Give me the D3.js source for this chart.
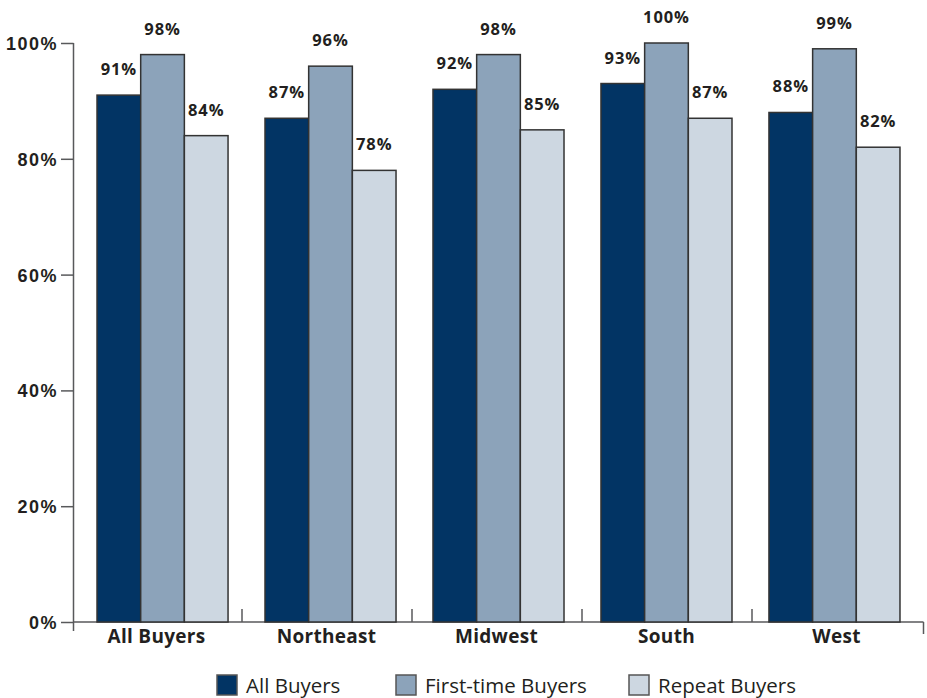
<!DOCTYPE html>
<html>
<head>
<meta charset="utf-8">
<script src="https://cdn.jsdelivr.net/npm/d3@7/dist/d3.min.js"></script>
<style>
  html, body { margin: 0; padding: 0; background: #fff; }
  svg { display: block; font-family: "Open Sans", "Noto Sans", sans-serif; }
</style>
</head>
<body>
<svg id="chart" width="927" height="698"></svg>
<script>
// Regions and buyer groups
const regions = ["All Buyers", "Northeast", "Midwest", "South", "West"];
const seriesNames = ["All Buyers", "First-time Buyers", "Repeat Buyers"];
const allBuyers = [91, 87, 92, 93, 88];
const firstTimeBuyers = [98, 96, 98, 100, 99];
const repeatBuyers = [84, 78, 85, 87, 82];
const yTicks = [0, 20, 40, 60, 80, 100];
const colors = ["#023464", "#8ca3ba", "#cdd7e1"];

const seriesValues = [allBuyers, firstTimeBuyers, repeatBuyers];
const rows = regions.map((r, i) => ({
  region: r,
  values: seriesNames.map((s, j) => ({ series: s, value: seriesValues[j][i] }))
}));

const svg = d3.select("#chart");
const textColor = "#231f20";
const axisColor = "#58595b";

const plotLeft = 73.5, plotRight = 923.5, plotTop = 43, plotBottom = 622;

const x0 = d3.scaleBand().domain(regions).range([plotLeft, plotRight])
  .paddingInner(0.22).paddingOuter(0.14);
const x1 = d3.scaleBand().domain(seriesNames).range([0, x0.bandwidth()]);
const y = d3.scaleLinear().domain([0, 100]).range([plotBottom, plotTop]);

// Y axis
const yAxis = d3.axisLeft(y).tickValues(yTicks).tickSize(12.5).tickPadding(3)
  .tickFormat(d => d + "%");
const yg = svg.append("g").attr("transform", `translate(${plotLeft},0)`).call(yAxis);
yg.select(".domain").remove();
yg.selectAll(".tick line").attr("stroke", axisColor).attr("stroke-width", 1.5);
yg.selectAll(".tick text")
  .attr("fill", textColor).attr("font-size", 18).attr("font-weight", 700)
  .attr("letter-spacing", 1.5).attr("dy", "0.36em");

svg.append("line")
  .attr("x1", plotLeft).attr("x2", plotLeft)
  .attr("y1", y(100)).attr("y2", y(0) + 9)
  .attr("stroke", axisColor).attr("stroke-width", 1.5);

// X axis baseline with category separators
svg.append("line")
  .attr("x1", plotLeft).attr("x2", plotRight)
  .attr("y1", y(0)).attr("y2", y(0))
  .attr("stroke", axisColor).attr("stroke-width", 1.5);

const sepStep = (plotRight - plotLeft) / regions.length;
d3.range(1, regions.length).forEach(i => {
  svg.append("line")
    .attr("x1", plotLeft + i * sepStep - 1.5).attr("x2", plotLeft + i * sepStep - 1.5)
    .attr("y1", y(0)).attr("y2", y(0) - 13)
    .attr("stroke", axisColor).attr("stroke-width", 1.5);
});
svg.append("line")
  .attr("x1", plotRight).attr("x2", plotRight)
  .attr("y1", y(0)).attr("y2", y(0) + 12)
  .attr("stroke", axisColor).attr("stroke-width", 1.5);

// Bars
const groups = svg.append("g").selectAll("g").data(rows).join("g")
  .attr("transform", d => `translate(${x0(d.region)},0)`);

groups.selectAll("rect").data(d => d.values).join("rect")
  .attr("x", d => x1(d.series))
  .attr("y", d => y(d.value))
  .attr("width", x1.bandwidth())
  .attr("height", d => y(0) - y(d.value))
  .attr("fill", (d, i) => colors[i])
  .attr("stroke", "#333333")
  .attr("stroke-width", 1.5);

// Value labels
groups.selectAll("text.val").data(d => d.values).join("text")
  .attr("class", "val")
  .attr("x", d => x1(d.series) + x1.bandwidth() / 2)
  .attr("y", d => y(d.value) - 20)
  .attr("text-anchor", "middle")
  .attr("fill", textColor)
  .attr("font-size", 16.5).attr("font-weight", 700).attr("letter-spacing", 0.9)
  .text(d => d.value + "%");

// Category labels, centred in each separator interval
svg.append("g").selectAll("text").data(regions).join("text")
  .attr("x", (d, i) => plotLeft + sepStep * (i + 0.5) - 2)
  .attr("y", 643)
  .attr("text-anchor", "middle")
  .attr("fill", textColor)
  .attr("font-size", 19).attr("font-weight", 700).attr("letter-spacing", 0.3)
  .text(d => d);

// Legend
const legendX = [217, 396, 629];
const legend = svg.append("g").selectAll("g").data(seriesNames).join("g")
  .attr("transform", (d, i) => `translate(${legendX[i]},675)`);
legend.append("rect")
  .attr("width", 20).attr("height", 20)
  .attr("fill", (d, i) => colors[i])
  .attr("stroke", "#555555").attr("stroke-width", 1.5);
legend.append("text")
  .attr("x", 29).attr("y", 17.5)
  .attr("fill", textColor)
  .attr("font-size", 20.5)
  .text(d => d);
</script>
</body>
</html>
